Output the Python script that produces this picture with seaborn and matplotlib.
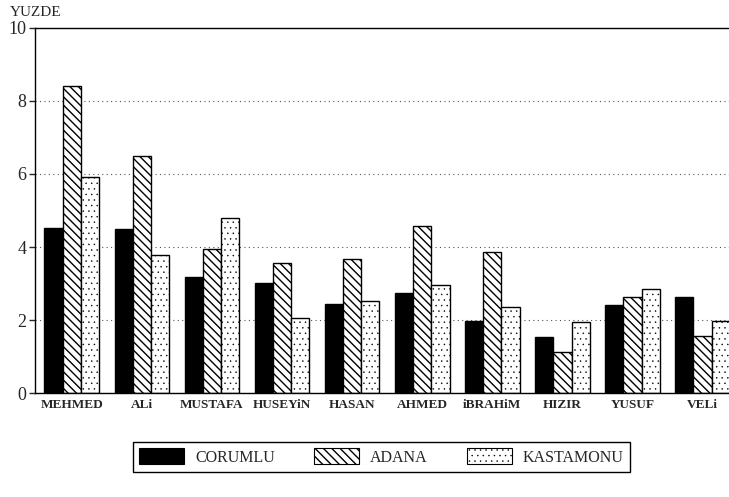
import matplotlib
matplotlib.use("Agg")
import matplotlib.pyplot as plt
from matplotlib.patches import Patch
import pandas as pd
import seaborn as sns

names = ["MEHMED", "ALi", "MUSTAFA", "HUSEYiN", "HASAN", "AHMED", "iBRAHiM", "HIZIR", "YUSUF", "VELi"]
corumlu = [4.53, 4.50, 3.19, 3.02, 2.44, 2.75, 1.97, 1.53, 2.40, 2.62]
adana = [8.42, 6.49, 3.94, 3.55, 3.66, 4.57, 3.87, 1.13, 2.64, 1.56]
kastamonu = [5.93, 3.78, 4.79, 2.07, 2.53, 2.96, 2.36, 1.95, 2.84, 1.98]
regions = ["CORUMLU", "ADANA", "KASTAMONU"]
colors = ["black", "white", "white"]
hatches = ["", "\\\\\\\\", "..."]
hatch_lw = [1.0, 1.0, 0.3]

sns.set_style("ticks")
plt.rcParams["font.family"] = ["Liberation Serif", "DejaVu Serif"]
plt.rcParams["hatch.linewidth"] = 1.0


def style_patch(p, h, lw):
    p.set_hatch(h)
    if hasattr(p, "set_hatch_linewidth"):
        p.set_hatch_linewidth(lw)


df = pd.DataFrame({
    "name": names * 3,
    "region": sum([[r] * len(names) for r in regions], []),
    "value": corumlu + adana + kastamonu,
})

fig = plt.figure(figsize=(7.29, 4.97), dpi=100)
ax = fig.add_axes([0.048, 0.209, 0.960, 0.735])

sns.barplot(data=df, x="name", y="value", hue="region", hue_order=regions,
            palette=dict(zip(regions, colors)), saturation=1, width=0.78,
            edgecolor="black", linewidth=1.0, legend=False, ax=ax)
for cont, h, lw in zip(ax.containers, hatches, hatch_lw):
    for bar in cont:
        style_patch(bar, h, lw)

ax.set_ylim(0, 10)
ax.set_xlim(-0.525, 9.46)
ax.set_yticks([0, 2, 4, 6, 8, 10])
ax.tick_params(axis="y", labelsize=13, length=4, width=1, direction="out", pad=2)
ax.tick_params(axis="x", length=0, labelsize=9.5, pad=4)
for lbl in ax.get_xticklabels():
    lbl.set_fontweight("bold")
ax.set_xlabel("")
ax.set_ylabel("")
ax.yaxis.grid(True, linestyle=(0, (1, 3)), color="#555555", linewidth=0.8)
ax.set_axisbelow(True)
ax.spines["right"].set_visible(False)
for s in ["left", "top", "bottom"]:
    ax.spines[s].set_linewidth(1.0)
    ax.spines[s].set_color("black")

fig.text(0.014, 0.975, "YUZDE", fontsize=11, va="center", ha="left")

handles = []
for c, h, lw in zip(colors, hatches, hatch_lw):
    p = Patch(facecolor=c, edgecolor="black", linewidth=0.8)
    style_patch(p, h, lw)
    handles.append(p)
leg = fig.legend(handles, regions, ncol=3, loc="center",
                 bbox_to_anchor=(133 / 729, 19 / 497, 497 / 729, 42 / 497), mode="expand",
                 fontsize=11.5, frameon=True, fancybox=False, edgecolor="black",
                 framealpha=1, handlelength=2.8, handleheight=1.1, handletextpad=0.7,
                 borderaxespad=0)
for p, h, lw in zip(leg.get_patches(), hatches, hatch_lw):
    style_patch(p, h, lw)

fig.savefig("out.png", dpi=100)
